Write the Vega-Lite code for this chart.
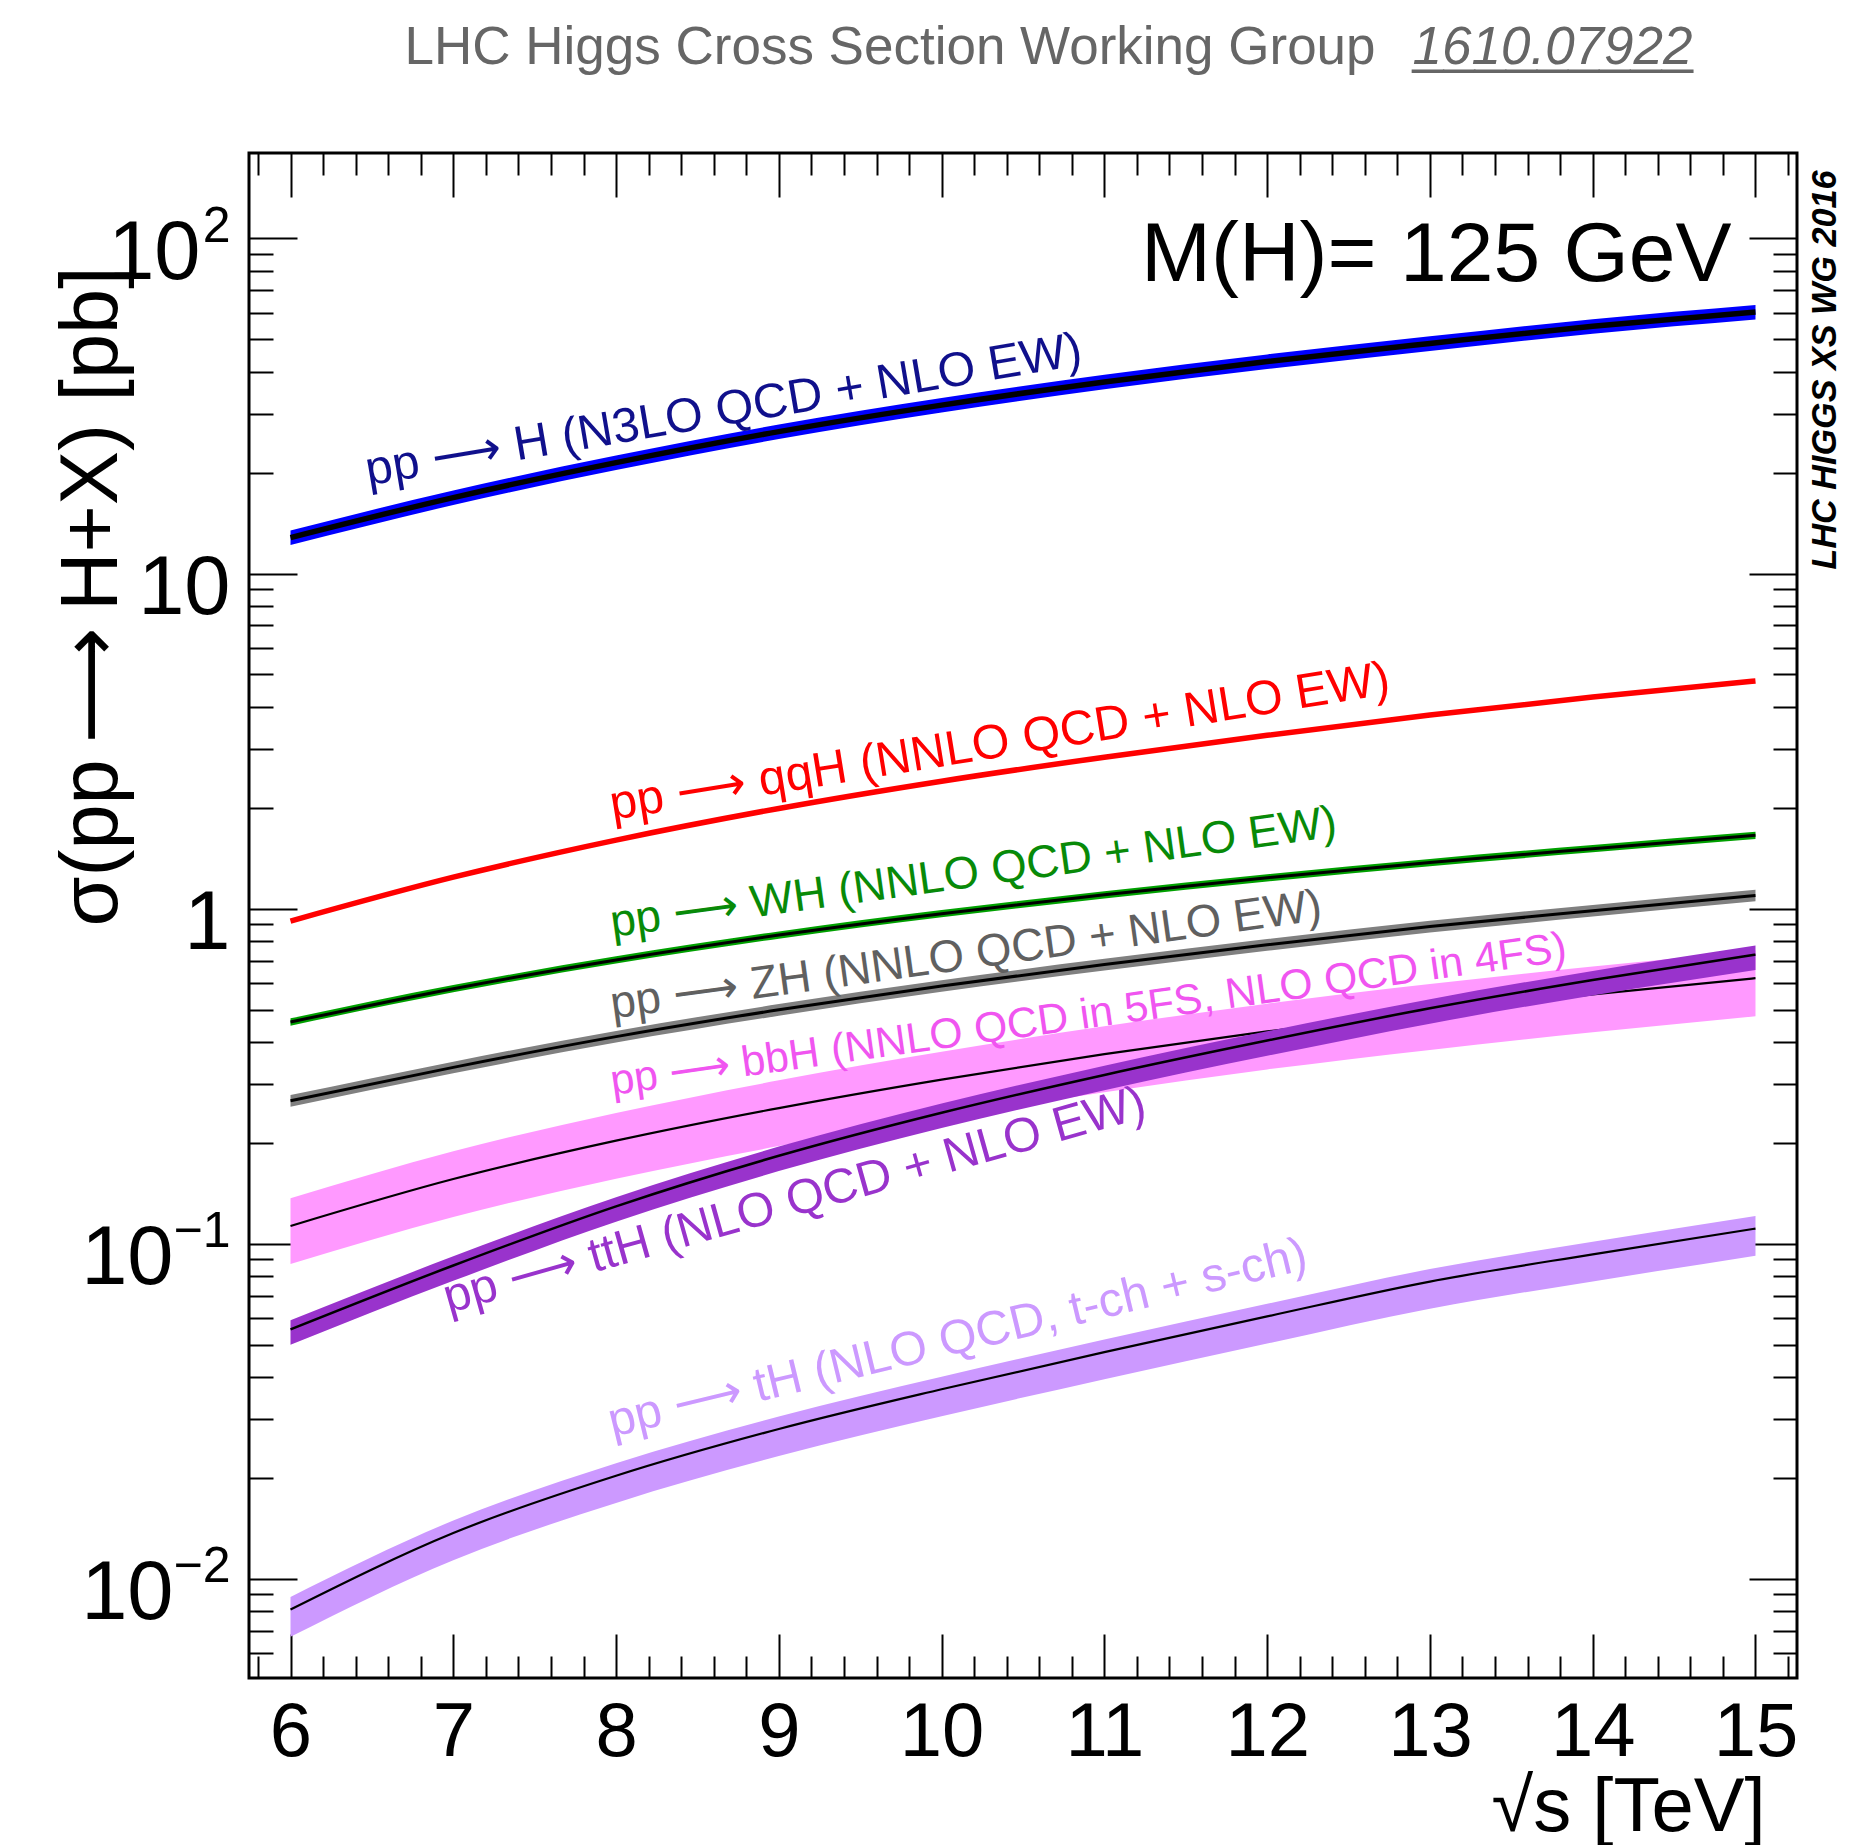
{
  "$schema": "https://vega.github.io/schema/vega-lite/v6.json",
  "width": 1548,
  "height": 1525,
  "autosize": "none",
  "padding": {"left": 249, "top": 153, "right": 79, "bottom": 167},
  "background": "white",
  "config": {
    "font": "Liberation Sans",
    "view": {"stroke": "black", "strokeWidth": 3},
    "axis": {"grid": false, "domain": false, "tickColor": "black", "tickWidth": 2, "labelFont": "Liberation Sans, DejaVu Sans", "titleFont": "Liberation Sans", "labelColor": "black", "titleColor": "black", "titleFontWeight": "normal", "labelOverlap": false, "labelFlush": false},
    "text": {"font": "Liberation Sans, DejaVu Sans", "align": "left", "baseline": "alphabetic"}
  },
  "datasets": {
    "curves": [
      {"s": "ggH", "x": 6, "y": 12.8, "lo": 12.16, "hi": 13.44},
      {"s": "ggH", "x": 7, "y": 16.85, "lo": 16.01, "hi": 17.69},
      {"s": "ggH", "x": 8, "y": 21.42, "lo": 20.35, "hi": 22.49},
      {"s": "ggH", "x": 9, "y": 26.5, "lo": 25.18, "hi": 27.83},
      {"s": "ggH", "x": 10, "y": 31.8, "lo": 30.21, "hi": 33.39},
      {"s": "ggH", "x": 11, "y": 37.3, "lo": 35.44, "hi": 39.17},
      {"s": "ggH", "x": 12, "y": 42.9, "lo": 40.76, "hi": 45.05},
      {"s": "ggH", "x": 13, "y": 48.58, "lo": 46.15, "hi": 51.01},
      {"s": "ggH", "x": 14, "y": 54.67, "lo": 51.94, "hi": 57.4},
      {"s": "ggH", "x": 15, "y": 60.3, "lo": 57.29, "hi": 63.32},
      {"s": "qqH", "x": 6, "y": 0.918, "lo": 0.904, "hi": 0.932},
      {"s": "qqH", "x": 7, "y": 1.241, "lo": 1.222, "hi": 1.26},
      {"s": "qqH", "x": 8, "y": 1.601, "lo": 1.577, "hi": 1.625},
      {"s": "qqH", "x": 9, "y": 1.99, "lo": 1.96, "hi": 2.02},
      {"s": "qqH", "x": 10, "y": 2.4, "lo": 2.364, "hi": 2.436},
      {"s": "qqH", "x": 11, "y": 2.83, "lo": 2.788, "hi": 2.872},
      {"s": "qqH", "x": 12, "y": 3.29, "lo": 3.241, "hi": 3.339},
      {"s": "qqH", "x": 13, "y": 3.782, "lo": 3.725, "hi": 3.839},
      {"s": "qqH", "x": 14, "y": 4.278, "lo": 4.214, "hi": 4.342},
      {"s": "qqH", "x": 15, "y": 4.78, "lo": 4.708, "hi": 4.852},
      {"s": "WH", "x": 6, "y": 0.459, "lo": 0.4475, "hi": 0.4705},
      {"s": "WH", "x": 7, "y": 0.577, "lo": 0.5626, "hi": 0.5914},
      {"s": "WH", "x": 8, "y": 0.703, "lo": 0.6854, "hi": 0.7206},
      {"s": "WH", "x": 9, "y": 0.834, "lo": 0.8132, "hi": 0.8549},
      {"s": "WH", "x": 10, "y": 0.966, "lo": 0.9419, "hi": 0.9902},
      {"s": "WH", "x": 11, "y": 1.1, "lo": 1.0725, "hi": 1.1275},
      {"s": "WH", "x": 12, "y": 1.236, "lo": 1.2051, "hi": 1.2669},
      {"s": "WH", "x": 13, "y": 1.373, "lo": 1.3387, "hi": 1.4073},
      {"s": "WH", "x": 14, "y": 1.51, "lo": 1.4723, "hi": 1.5478},
      {"s": "WH", "x": 15, "y": 1.655, "lo": 1.6136, "hi": 1.6964},
      {"s": "ZH", "x": 6, "y": 0.267, "lo": 0.2563, "hi": 0.2777},
      {"s": "ZH", "x": 7, "y": 0.336, "lo": 0.3226, "hi": 0.3494},
      {"s": "ZH", "x": 8, "y": 0.415, "lo": 0.3984, "hi": 0.4316},
      {"s": "ZH", "x": 9, "y": 0.499, "lo": 0.479, "hi": 0.519},
      {"s": "ZH", "x": 10, "y": 0.588, "lo": 0.5645, "hi": 0.6115},
      {"s": "ZH", "x": 11, "y": 0.681, "lo": 0.6538, "hi": 0.7082},
      {"s": "ZH", "x": 12, "y": 0.78, "lo": 0.7488, "hi": 0.8112},
      {"s": "ZH", "x": 13, "y": 0.884, "lo": 0.8486, "hi": 0.9194},
      {"s": "ZH", "x": 14, "y": 0.986, "lo": 0.9466, "hi": 1.0254},
      {"s": "ZH", "x": 15, "y": 1.095, "lo": 1.0512, "hi": 1.1388},
      {"s": "bbH", "x": 6, "y": 0.113, "lo": 0.087, "hi": 0.1367},
      {"s": "bbH", "x": 7, "y": 0.156, "lo": 0.1201, "hi": 0.1888},
      {"s": "bbH", "x": 8, "y": 0.203, "lo": 0.1563, "hi": 0.2456},
      {"s": "bbH", "x": 9, "y": 0.254, "lo": 0.1956, "hi": 0.3073},
      {"s": "bbH", "x": 10, "y": 0.309, "lo": 0.2379, "hi": 0.3739},
      {"s": "bbH", "x": 11, "y": 0.368, "lo": 0.2834, "hi": 0.4453},
      {"s": "bbH", "x": 12, "y": 0.43, "lo": 0.3311, "hi": 0.5203},
      {"s": "bbH", "x": 13, "y": 0.492, "lo": 0.3788, "hi": 0.5953},
      {"s": "bbH", "x": 14, "y": 0.555, "lo": 0.4274, "hi": 0.6716},
      {"s": "bbH", "x": 15, "y": 0.62, "lo": 0.4774, "hi": 0.7502},
      {"s": "ttH", "x": 6, "y": 0.0555, "lo": 0.04995, "hi": 0.05911},
      {"s": "ttH", "x": 7, "y": 0.0861, "lo": 0.07749, "hi": 0.0917},
      {"s": "ttH", "x": 8, "y": 0.1293, "lo": 0.1164, "hi": 0.1377},
      {"s": "ttH", "x": 9, "y": 0.183, "lo": 0.1647, "hi": 0.1949},
      {"s": "ttH", "x": 10, "y": 0.246, "lo": 0.2214, "hi": 0.262},
      {"s": "ttH", "x": 11, "y": 0.319, "lo": 0.2871, "hi": 0.3397},
      {"s": "ttH", "x": 12, "y": 0.404, "lo": 0.3636, "hi": 0.4303},
      {"s": "ttH", "x": 13, "y": 0.504, "lo": 0.4536, "hi": 0.5368},
      {"s": "ttH", "x": 14, "y": 0.612, "lo": 0.5508, "hi": 0.6518},
      {"s": "ttH", "x": 15, "y": 0.729, "lo": 0.6561, "hi": 0.7764},
      {"s": "tH", "x": 6, "y": 0.0081, "lo": 0.00672, "hi": 0.00883},
      {"s": "tH", "x": 7, "y": 0.0137, "lo": 0.01137, "hi": 0.01493},
      {"s": "tH", "x": 8, "y": 0.0203, "lo": 0.01685, "hi": 0.02213},
      {"s": "tH", "x": 9, "y": 0.028, "lo": 0.02324, "hi": 0.03052},
      {"s": "tH", "x": 10, "y": 0.0368, "lo": 0.03054, "hi": 0.04011},
      {"s": "tH", "x": 11, "y": 0.0475, "lo": 0.03943, "hi": 0.05178},
      {"s": "tH", "x": 12, "y": 0.0607, "lo": 0.05038, "hi": 0.06616},
      {"s": "tH", "x": 13, "y": 0.0771, "lo": 0.06399, "hi": 0.08404},
      {"s": "tH", "x": 14, "y": 0.093, "lo": 0.07719, "hi": 0.1014},
      {"s": "tH", "x": 15, "y": 0.111, "lo": 0.09213, "hi": 0.121}
    ],
    "labels": [
      {"s": "ggH", "x": 6.478, "y": 18.3, "t": "pp ⟶ H (N3LO QCD + NLO EW)"},
      {"s": "qqH", "x": 7.978, "y": 1.84, "t": "pp ⟶ qqH (NNLO QCD + NLO EW)"},
      {"s": "WH", "x": 7.978, "y": 0.823, "t": "pp ⟶ WH (NNLO QCD + NLO EW)"},
      {"s": "ZH", "x": 7.978, "y": 0.47, "t": "pp ⟶ ZH (NNLO QCD + NLO EW)"},
      {"s": "bbH", "x": 7.978, "y": 0.278, "t": "pp ⟶ bbH (NNLO QCD in 5FS, NLO QCD in 4FS)"},
      {"s": "ttH", "x": 6.971, "y": 0.062, "t": "pp ⟶ ttH (NLO QCD + NLO EW)"},
      {"s": "tH", "x": 7.978, "y": 0.0265, "t": "pp ⟶ tH (NLO QCD, t-ch + s-ch)"}
    ],
    "note": [{"x": 14.853, "y": 74.6, "t": "M(H)= 125 GeV"}]
  },
  "resolve": {"scale": {"color": "independent"}, "axis": {"x": "independent", "y": "independent"}},
  "layer": [
    {
      "data": {"name": "curves"},
      "transform": [{"filter": "datum.s !== 'ttH' && datum.s !== 'qqH'"}],
      "mark": {"type": "area", "interpolate": "monotone"},
      "encoding": {
        "x": {"field": "x", "type": "quantitative", "scale": {"type": "linear", "domain": [5.745, 15.255], "nice": false, "zero": false},
          "axis": {"orient": "bottom", "values": [6, 7, 8, 9, 10, 11, 12, 13, 14, 15], "tickSize": -44, "labelFontSize": 76, "labelPadding": 61, "format": "d",
            "title": "√s [TeV]", "titleFontSize": 76, "titleAngle": 0, "titleAlign": "right", "titleBaseline": "alphabetic", "titleX": 1516, "titleY": 152}},
        "y": {"field": "lo", "type": "quantitative", "scale": {"type": "log", "domain": [0.00506, 179.8], "nice": false},
          "axis": {"orient": "left", "values": [0.01, 0.1, 1, 10, 100], "tickSize": -48, "labelFontSize": 83, "labelPadding": 67, "labelOffset": 15, "labelBaseline": "middle",
            "labelExpr": "datum.value > 50 ? '' : datum.value > 5 ? '10' : datum.value > 0.5 ? '1' : ''",
            "title": "σ(pp\u2009⟶\u2009H+X) [pb]", "titleFont": "Liberation Sans, DejaVu Sans", "titleFontSize": 81, "titleAngle": 270, "titleAlign": "right", "titleBaseline": "alphabetic", "titleX": -133, "titleY": 113}},
        "y2": {"field": "hi"},
        "color": {"field": "s", "type": "nominal", "scale": {"domain": ["ggH", "WH", "ZH", "bbH", "tH"], "range": ["#0000ff", "#00a000", "#808080", "#ff99ff", "#cc99ff"]}, "legend": null}
      }
    },
    {
      "data": {"name": "curves"},
      "transform": [{"filter": "datum.s === 'ggH'"}],
      "mark": {"type": "line", "interpolate": "monotone", "color": "black", "strokeWidth": 5.5},
      "encoding": {
        "x": {"field": "x", "type": "quantitative", "scale": {"type": "linear", "domain": [5.745, 15.255], "nice": false, "zero": false},
          "axis": {"orient": "bottom", "values": [5.8, 6.2, 6.4, 6.6, 6.8, 7.2, 7.4, 7.6, 7.8, 8.2, 8.4, 8.6, 8.8, 9.2, 9.4, 9.6, 9.8, 10.2, 10.4, 10.6, 10.8, 11.2, 11.4, 11.6, 11.8, 12.2, 12.4, 12.6, 12.8, 13.2, 13.4, 13.6, 13.8, 14.2, 14.4, 14.6, 14.8, 15.2], "tickSize": -22, "labels": false, "title": null}},
        "y": {"field": "y", "type": "quantitative", "scale": {"type": "log", "domain": [0.00506, 179.8], "nice": false},
          "axis": {"orient": "left", "values": [0.006, 0.007, 0.008, 0.009, 0.02, 0.03, 0.04, 0.05, 0.06, 0.07, 0.08, 0.09, 0.2, 0.3, 0.4, 0.5, 0.6, 0.7, 0.8, 0.9, 2, 3, 4, 5, 6, 7, 8, 9, 20, 30, 40, 50, 60, 70, 80, 90], "tickSize": -24, "labels": false, "title": null}}
      }
    },
    {
      "data": {"name": "curves"},
      "transform": [{"filter": "datum.s === 'qqH'"}],
      "mark": {"type": "line", "interpolate": "monotone", "color": "#ff0000", "strokeWidth": 5.5},
      "encoding": {
        "x": {"field": "x", "type": "quantitative", "scale": {"type": "linear", "domain": [5.745, 15.255], "nice": false, "zero": false},
          "axis": {"orient": "top", "values": [6, 7, 8, 9, 10, 11, 12, 13, 14, 15], "tickSize": -44, "labels": false,
            "title": "LHC Higgs Cross Section Working Group", "titleFontSize": 53, "titleColor": "#666666", "titleAngle": 0, "titleAlign": "left", "titleBaseline": "alphabetic", "titleX": 155, "titleY": -90}},
        "y": {"field": "y", "type": "quantitative", "scale": {"type": "log", "domain": [0.00506, 179.8], "nice": false},
          "axis": {"orient": "right", "values": [0.01, 0.1, 1, 10, 100], "tickSize": -48, "labels": false, "title": null}}
      }
    },
    {
      "data": {"name": "curves"},
      "transform": [{"filter": "datum.s === 'WH' || datum.s === 'ZH'"}],
      "mark": {"type": "line", "interpolate": "monotone", "color": "black", "strokeWidth": 3},
      "encoding": {
        "detail": {"field": "s", "type": "nominal"},
        "x": {"field": "x", "type": "quantitative", "scale": {"type": "linear", "domain": [5.745, 15.255], "nice": false, "zero": false},
          "axis": {"orient": "top", "values": [5.8, 6.2, 6.4, 6.6, 6.8, 7.2, 7.4, 7.6, 7.8, 8.2, 8.4, 8.6, 8.8, 9.2, 9.4, 9.6, 9.8, 10.2, 10.4, 10.6, 10.8, 11.2, 11.4, 11.6, 11.8, 12.2, 12.4, 12.6, 12.8, 13.2, 13.4, 13.6, 13.8, 14.2, 14.4, 14.6, 14.8, 15.2], "tickSize": -22, "labels": false,
            "title": "1610.07922", "titleFontSize": 53, "titleFontStyle": "italic", "titleColor": "#666666", "titleAngle": 0, "titleAlign": "left", "titleBaseline": "alphabetic", "titleX": 1163, "titleY": -90}},
        "y": {"field": "y", "type": "quantitative", "scale": {"type": "log", "domain": [0.00506, 179.8], "nice": false},
          "axis": {"orient": "right", "values": [0.006, 0.007, 0.008, 0.009, 0.02, 0.03, 0.04, 0.05, 0.06, 0.07, 0.08, 0.09, 0.2, 0.3, 0.4, 0.5, 0.6, 0.7, 0.8, 0.9, 2, 3, 4, 5, 6, 7, 8, 9, 20, 30, 40, 50, 60, 70, 80, 90], "tickSize": -24, "labels": false,
            "title": "LHC HIGGS XS WG 2016", "titleFontSize": 34.2, "titleFontWeight": "bold", "titleFontStyle": "italic", "titleAngle": 270, "titleAlign": "right", "titleBaseline": "alphabetic", "titleX": 38, "titleY": 17}}
      }
    },
    {
      "data": {"name": "curves"},
      "transform": [{"filter": "datum.s === 'bbH' || datum.s === 'tH'"}],
      "mark": {"type": "line", "interpolate": "monotone", "color": "black", "strokeWidth": 2.2},
      "encoding": {
        "detail": {"field": "s", "type": "nominal"},
        "x": {"field": "x", "type": "quantitative", "scale": {"type": "linear", "domain": [5.745, 15.255], "nice": false, "zero": false},
          "axis": {"orient": "top", "ticks": false, "labels": false, "title": "_________", "titleFontSize": 56, "titleColor": "#666666", "titleAngle": 0, "titleAlign": "left", "titleBaseline": "alphabetic", "titleX": 1163, "titleY": -92}},
        "y": {"field": "y", "type": "quantitative", "scale": {"type": "log", "domain": [0.00506, 179.8], "nice": false},
          "axis": {"orient": "left", "values": [0.01, 0.1, 100], "ticks": false, "labelFontSize": 50, "labelPadding": 19, "labelOffset": 3, "labelBaseline": "alphabetic",
            "labelExpr": "datum.value > 50 ? '2' : datum.value > 0.05 ? '−1' : '−2'", "title": null}}
      }
    },
    {
      "data": {"name": "curves"},
      "transform": [{"filter": "datum.s === 'ttH'"}],
      "mark": {"type": "area", "interpolate": "monotone", "color": "#9933cc", "opacity": 1},
      "encoding": {
        "x": {"field": "x", "type": "quantitative", "scale": {"type": "linear", "domain": [5.745, 15.255], "nice": false, "zero": false}, "axis": null},
        "y": {"field": "lo", "type": "quantitative", "scale": {"type": "log", "domain": [0.00506, 179.8], "nice": false},
          "axis": {"orient": "left", "values": [100], "ticks": false, "labelFontSize": 83, "labelPadding": 49, "labelOffset": 15, "labelBaseline": "middle", "labelExpr": "'10'", "title": null}},
        "y2": {"field": "hi"}
      }
    },
    {
      "data": {"name": "curves"},
      "transform": [{"filter": "datum.s === 'ttH'"}],
      "mark": {"type": "line", "interpolate": "monotone", "color": "black", "strokeWidth": 2.5},
      "encoding": {
        "x": {"field": "x", "type": "quantitative", "scale": {"type": "linear", "domain": [5.745, 15.255], "nice": false, "zero": false}, "axis": null},
        "y": {"field": "y", "type": "quantitative", "scale": {"type": "log", "domain": [0.00506, 179.8], "nice": false},
          "axis": {"orient": "left", "values": [0.01, 0.1], "ticks": false, "labelFontSize": 83, "labelPadding": 76, "labelOffset": 15, "labelBaseline": "middle", "labelExpr": "'10'", "title": null}}
      }
    },
    {
      "data": {"name": "labels"},
      "transform": [{"filter": "datum.s === 'ggH'"}],
      "mark": {"type": "text", "fontSize": 48.5, "angle": -9.6, "color": "#10108c"},
      "encoding": {
        "x": {"field": "x", "type": "quantitative", "scale": {"type": "linear", "domain": [5.745, 15.255], "nice": false, "zero": false}, "axis": null},
        "y": {"field": "y", "type": "quantitative", "scale": {"type": "log", "domain": [0.00506, 179.8], "nice": false}, "axis": null},
        "text": {"field": "t", "type": "nominal"}
      }
    },
    {
      "data": {"name": "labels"},
      "transform": [{"filter": "datum.s === 'qqH'"}],
      "mark": {"type": "text", "fontSize": 48.6, "angle": -9.2, "color": "#ff0000"},
      "encoding": {
        "x": {"field": "x", "type": "quantitative", "scale": {"type": "linear", "domain": [5.745, 15.255], "nice": false, "zero": false}, "axis": null},
        "y": {"field": "y", "type": "quantitative", "scale": {"type": "log", "domain": [0.00506, 179.8], "nice": false}, "axis": null},
        "text": {"field": "t", "type": "nominal"}
      }
    },
    {
      "data": {"name": "labels"},
      "transform": [{"filter": "datum.s === 'WH'"}],
      "mark": {"type": "text", "fontSize": 45.6, "angle": -7.9, "color": "#088a08"},
      "encoding": {
        "x": {"field": "x", "type": "quantitative", "scale": {"type": "linear", "domain": [5.745, 15.255], "nice": false, "zero": false}, "axis": null},
        "y": {"field": "y", "type": "quantitative", "scale": {"type": "log", "domain": [0.00506, 179.8], "nice": false}, "axis": null},
        "text": {"field": "t", "type": "nominal"}
      }
    },
    {
      "data": {"name": "labels"},
      "transform": [{"filter": "datum.s === 'ZH'"}],
      "mark": {"type": "text", "fontSize": 45.6, "angle": -7.9, "color": "#606060"},
      "encoding": {
        "x": {"field": "x", "type": "quantitative", "scale": {"type": "linear", "domain": [5.745, 15.255], "nice": false, "zero": false}, "axis": null},
        "y": {"field": "y", "type": "quantitative", "scale": {"type": "log", "domain": [0.00506, 179.8], "nice": false}, "axis": null},
        "text": {"field": "t", "type": "nominal"}
      }
    },
    {
      "data": {"name": "labels"},
      "transform": [{"filter": "datum.s === 'bbH'"}],
      "mark": {"type": "text", "fontSize": 42.7, "angle": -8.0, "color": "#f055f0"},
      "encoding": {
        "x": {"field": "x", "type": "quantitative", "scale": {"type": "linear", "domain": [5.745, 15.255], "nice": false, "zero": false}, "axis": null},
        "y": {"field": "y", "type": "quantitative", "scale": {"type": "log", "domain": [0.00506, 179.8], "nice": false}, "axis": null},
        "text": {"field": "t", "type": "nominal"}
      }
    },
    {
      "data": {"name": "labels"},
      "transform": [{"filter": "datum.s === 'ttH'"}],
      "mark": {"type": "text", "fontSize": 48.6, "angle": -15.7, "color": "#9933cc"},
      "encoding": {
        "x": {"field": "x", "type": "quantitative", "scale": {"type": "linear", "domain": [5.745, 15.255], "nice": false, "zero": false}, "axis": null},
        "y": {"field": "y", "type": "quantitative", "scale": {"type": "log", "domain": [0.00506, 179.8], "nice": false}, "axis": null},
        "text": {"field": "t", "type": "nominal"}
      }
    },
    {
      "data": {"name": "labels"},
      "transform": [{"filter": "datum.s === 'tH'"}],
      "mark": {"type": "text", "fontSize": 48.3, "angle": -13.6, "color": "#cc99ff"},
      "encoding": {
        "x": {"field": "x", "type": "quantitative", "scale": {"type": "linear", "domain": [5.745, 15.255], "nice": false, "zero": false}, "axis": null},
        "y": {"field": "y", "type": "quantitative", "scale": {"type": "log", "domain": [0.00506, 179.8], "nice": false}, "axis": null},
        "text": {"field": "t", "type": "nominal"}
      }
    },
    {
      "data": {"name": "note"},
      "mark": {"type": "text", "align": "right", "fontSize": 84, "font": "Liberation Sans", "color": "black"},
      "encoding": {
        "x": {"field": "x", "type": "quantitative", "scale": {"type": "linear", "domain": [5.745, 15.255], "nice": false, "zero": false}, "axis": null},
        "y": {"field": "y", "type": "quantitative", "scale": {"type": "log", "domain": [0.00506, 179.8], "nice": false}, "axis": null},
        "text": {"field": "t", "type": "nominal"}
      }
    }
  ]
}
